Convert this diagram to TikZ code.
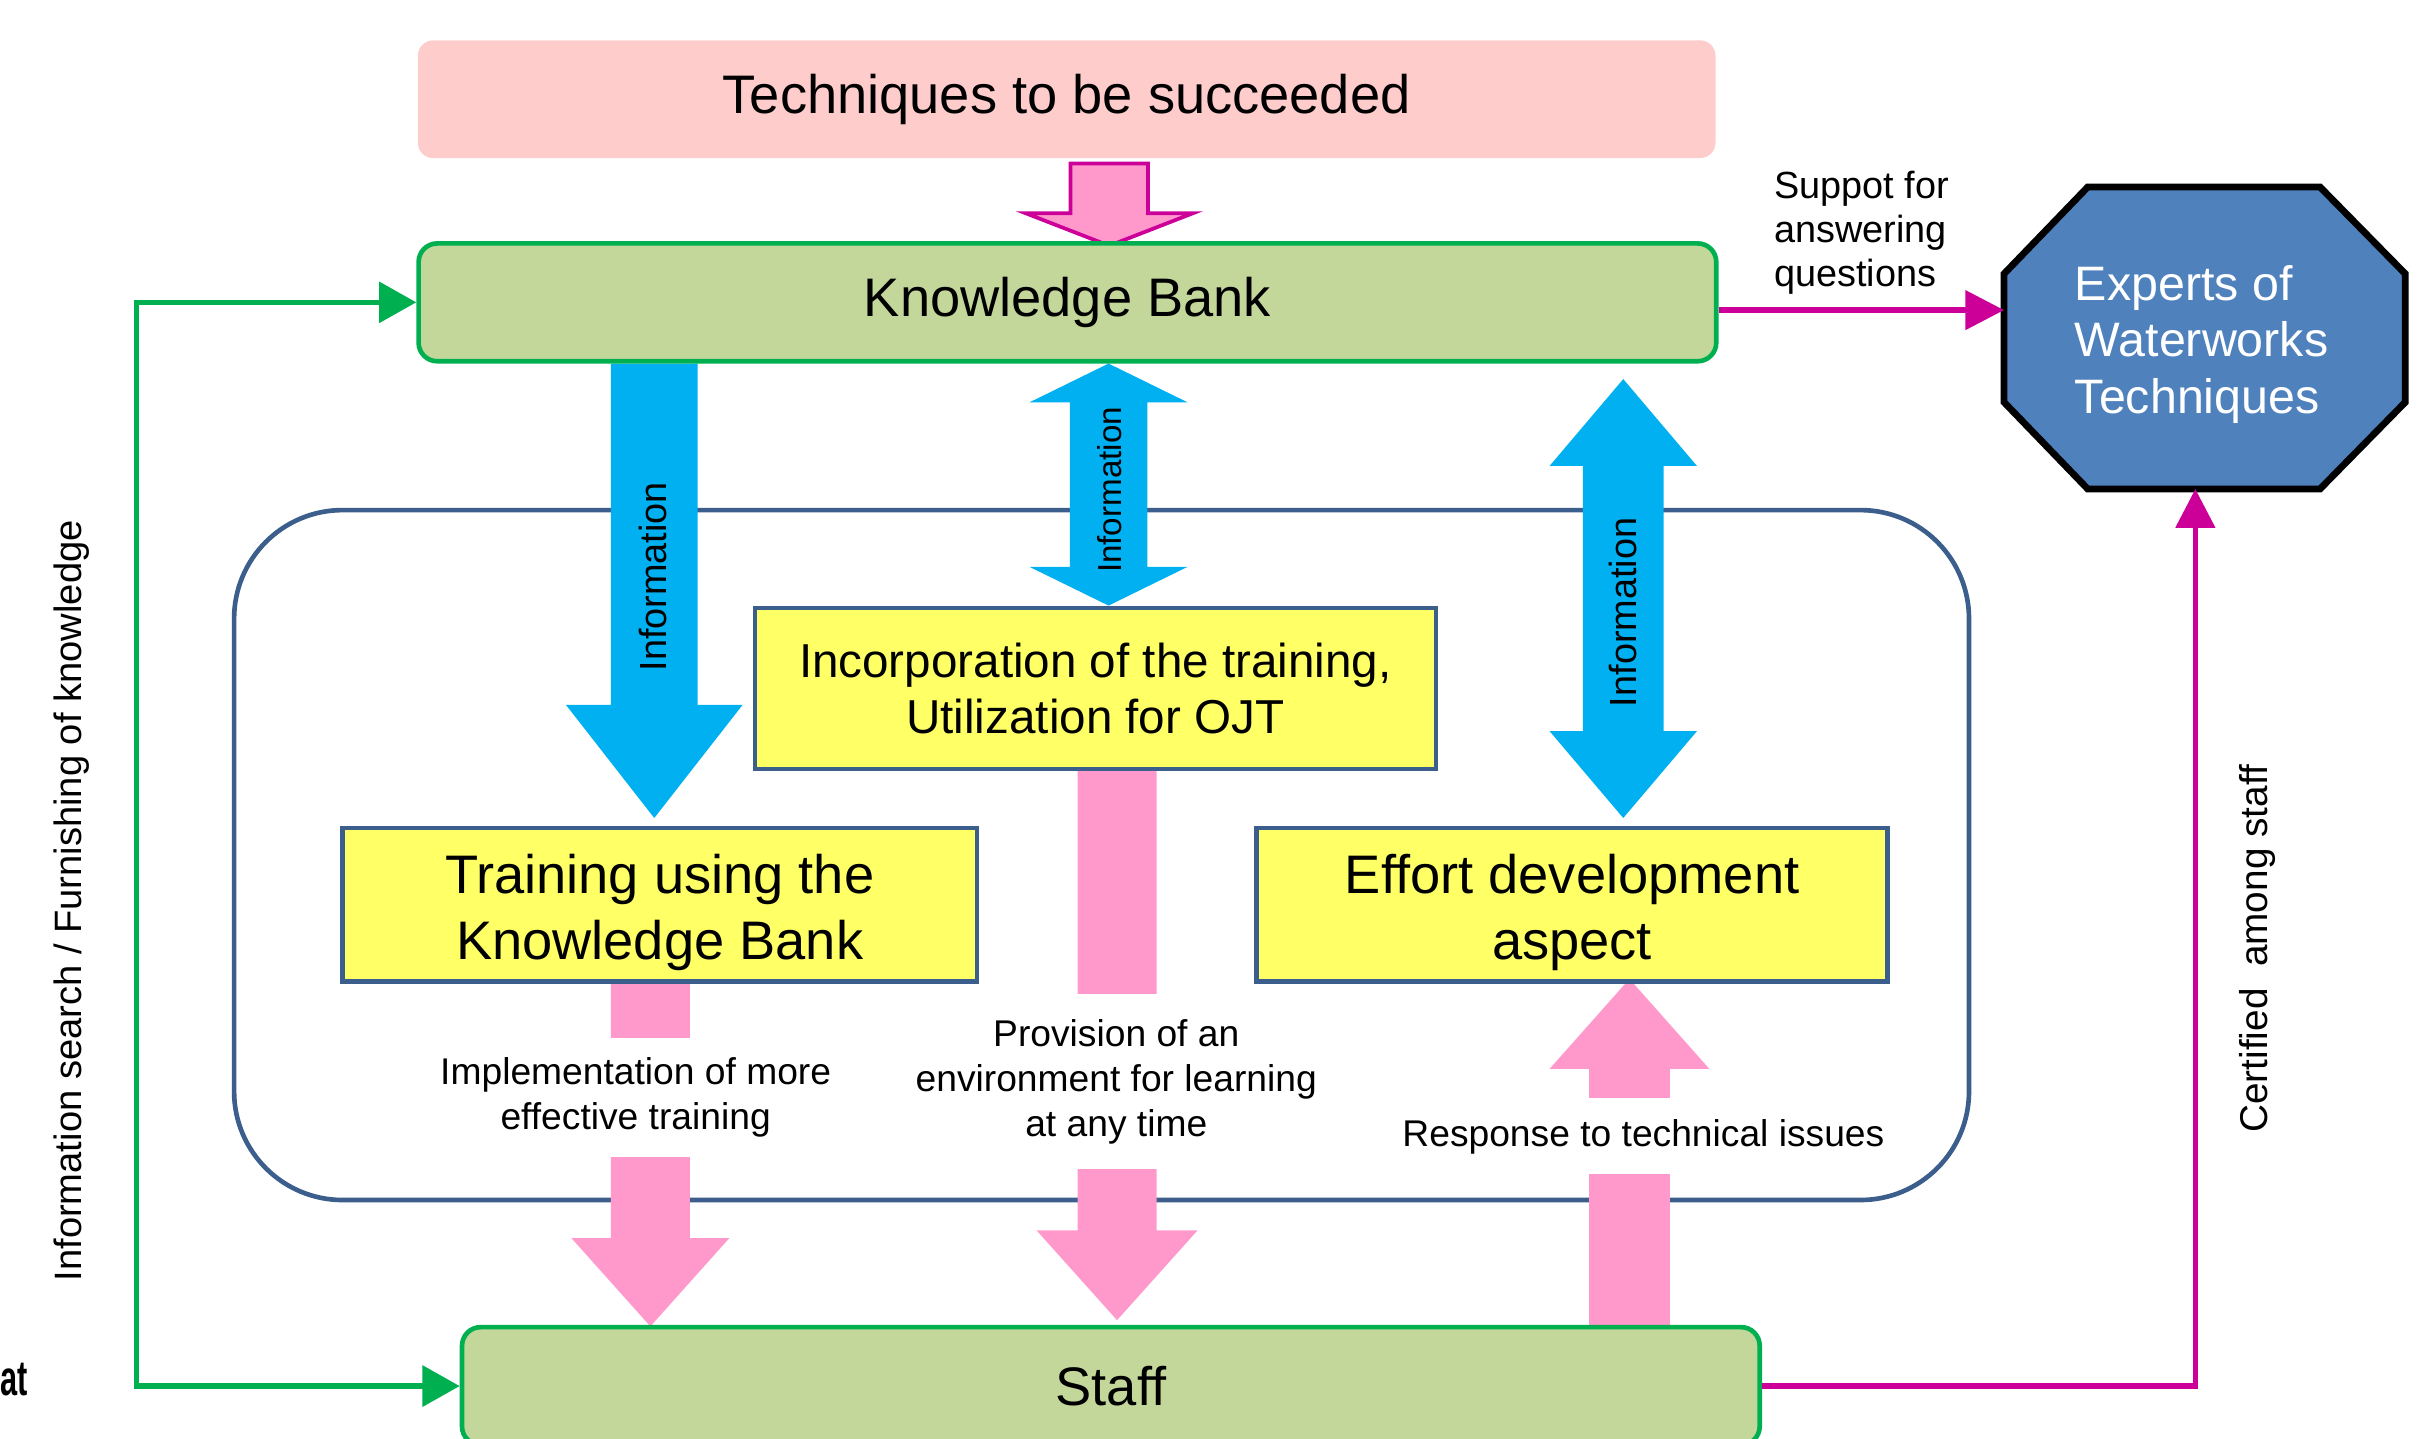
\documentclass[tikz,border=0pt]{standalone}
\usepackage{fontspec}
\setmainfont{Liberation Sans}
\usetikzlibrary{arrows.meta,calc,backgrounds}

\definecolor{techpink}{HTML}{FFCCCC}
\definecolor{kbgreen}{HTML}{C4D79B}
\definecolor{edgegreen}{HTML}{00B050}
\definecolor{frameblue}{HTML}{3B5E8C}
\definecolor{infoblue}{HTML}{00B0F0}
\definecolor{flowpink}{HTML}{FF99CC}
\definecolor{linkmag}{HTML}{CC0099}
\definecolor{noteyellow}{HTML}{FFFF66}
\definecolor{expertblue}{HTML}{4F81BD}

% vertical block arrow: style, start, tip, shaft half-width, head half-width, head length
\newcommand\vblock[6]{%
  \path[#1] ($(#2)+(-#4,0)$) -- ($(#3)+(-#4,-#6)$) -- ($(#3)+(-#5,-#6)$) -- (#3)
    -- ($(#3)+(#5,-#6)$) -- ($(#3)+(#4,-#6)$) -- ($(#2)+(#4,0)$) -- cycle;}
% vertical double block arrow: style, upper tip, lower tip, shaft half-width, head half-width, head length
\newcommand\dblock[6]{%
  \path[#1] (#2) -- ($(#2)+(#5,#6)$) -- ($(#2)+(#4,#6)$) -- ($(#3)+(#4,-#6)$)
    -- ($(#3)+(#5,-#6)$) -- (#3) -- ($(#3)+(-#5,-#6)$) -- ($(#3)+(-#4,-#6)$)
    -- ($(#2)+(-#4,#6)$) -- ($(#2)+(-#5,#6)$) -- cycle;}

\begin{document}
\begin{tikzpicture}[x=0.5pt,y=-0.5pt,
  bar/.style={rounded corners=6pt, minimum width=418.5pt, minimum height=38pt,
    font=\fontsize{17.5}{21}\selectfont},
  bank/.style={bar, fill=kbgreen, draw=edgegreen, line width=1.5pt},
  task/.style={fill=noteyellow, draw=frameblue, line width=1.4pt},
  tasktext/.style={align=center, font=\fontsize{17.5}{21}\selectfont},
  note/.style={fill=white, inner xsep=2pt, inner ysep=0pt, align=center,
    font=\fontsize{12}{14.5}\selectfont},
  info/.style={rotate=90, font=\fontsize{12.2}{14}\selectfont},
  greenlink/.style={draw=edgegreen, line width=1.75pt,
    {Triangle[length=12pt,width=13pt]}-{Triangle[length=12pt,width=13pt]}},
  maglink/.style={draw=linkmag, line width=1.75pt, -{Triangle[length=12.5pt,width=12.5pt]}},
  bluearrow/.style={fill=infoblue},
  pinkarrow/.style={fill=flowpink},
]
\useasboundingbox (0,0) rectangle (1568,928);
\clip (0,0) rectangle (1568,928);

% column positions of the block arrows
\coordinate (xB) at (422,0);
\coordinate (xM) at (715,0);
\coordinate (xR) at (1047,0);
\coordinate (xA) at (419.5,0);
\coordinate (xP) at (720.5,0);
\coordinate (xU) at (1051,0);
\coordinate (xT) at (715.5,0);

% main boxes
\node[bar, fill=techpink, rounded corners=5pt] (tech) at (688,64) {Techniques to be succeeded};
\node[bank] (kb) at (688.5,195) {Knowledge Bank};
\node[bank] (staff) at (716.5,894) {Staff};

\node[task, minimum width=204.5pt, minimum height=49.5pt] (train) at (425.5,583.5) {};
\node[tasktext] (traintext) at ($(train.center)+(0,5)$) {Training using the\\Knowledge Bank};
\node[task, minimum width=219.5pt, minimum height=52pt, align=center,
  font=\fontsize{15.35}{18}\selectfont] (incorp) at (706.5,444) {Incorporation of the training,\\Utilization for OJT};
\node[task, minimum width=203.5pt, minimum height=49.5pt] (effort) at (1014,583.5) {};
\node[tasktext] (efforttext) at ($(effort.center)+(0,5)$) {Effort development\\aspect};

% experts octagon
\node[minimum width=129pt, minimum height=97pt, inner sep=0pt] (exp) at (1422,218) {};
\draw[fill=expertblue, draw=black, line width=2.2pt]
  ($(exp.north west)+(54,0)$) -- ($(exp.north east)+(-55,0)$) -- ($(exp.north east)+(0,56)$)
  -- ($(exp.south east)+(0,-56)$) -- ($(exp.south east)+(-55,0)$) -- ($(exp.south west)+(54,0)$)
  -- ($(exp.south west)+(0,-56)$) -- ($(exp.north west)+(0,56)$) -- cycle;
\node[text=white, align=left, font=\fontsize{15.6}{18.25}\selectfont] (exptext)
  at ($(exp.center)+(-2,4)$) {Experts of\\Waterworks\\Techniques};

\begin{pgfonlayer}{background}
  % learning environment frame
  \draw[frameblue, line width=1.5pt, rounded corners=35pt] (151,329) rectangle (1270,774);

  % information flows
  \vblock{bluearrow}{kb.south -| xB}{$(train.north -| xB)+(0,-5)$}{28}{57}{73}
  \dblock{bluearrow}{kb.south -| xM}{incorp.north -| xM}{25}{51}{25}
  \dblock{bluearrow}{$(kb.south -| xR)+(0,10)$}{$(effort.north -| xR)+(0,-5)$}{26}{47.5}{56}

  % succession into the bank
  \vblock{pinkarrow, draw=linkmag, line width=1.2pt}{$(tech.south -| xT)+(0,3)$}{$(kb.north -| xT)+(0,3)$}{25}{54}{21}

  % effects on the staff
  \vblock{pinkarrow}{train.south -| xA}{$(staff.north -| xA)+(0,1)$}{25.5}{51}{57}
  \vblock{pinkarrow}{incorp.south -| xP}{$(staff.north -| xP)+(0,-3)$}{25.5}{52}{58}
  \vblock{pinkarrow}{staff.north -| xU}{$(effort.south -| xU)+(0,-3)$}{26}{51.5}{-58}
\end{pgfonlayer}

% labels on the flows
\node[info] (infoL) at (421,372) {Information};
\node[info, font=\fontsize{10.7}{12}\selectfont] (infoM) at (716,316) {Information};
\node[info] (infoR) at (1047,395) {Information};

\node[note, minimum height=38.5pt] (impl) at (410,708) {Implementation of more\\effective training};
\node[note, minimum height=56.5pt] (prov) at (720,697.5) {Provision of an\\environment for learning\\at any time};
\node[note, minimum height=24.5pt] (resp) at (1060,733) {Response to technical issues};

% links to the experts
\coordinate (expL) at ($(exp.west)+(0,-18)$);
\coordinate (expB) at ($(exp.south)+(-6,0)$);
\draw[maglink] (kb.east |- expL) -- (expL);
\node[anchor=west, align=left, inner sep=0pt, font=\fontsize{12.2}{14.25}\selectfont] (support)
  at (1144,150) {Suppot for\\answering\\questions};
\draw[maglink] (staff.east) -| (expB);
\node[rotate=90, font=\fontsize{12.5}{14}\selectfont] (cert) at (1456,612) {Certified~ among staff};

% search / furnishing loop
\coordinate (gx) at (88,0);
\draw[greenlink] (kb.west) -- (kb.west -| gx) -- (staff.west -| gx) -- (staff.west);
\node[rotate=90, font=\fontsize{12.3}{14}\selectfont] (search) at (46,581)
  {Information search / Furnishing of knowledge};

\node[anchor=base west, inner sep=0pt, xscale=0.62, font=\bfseries\fontsize{16}{18}\selectfont]
  (cut) at (0,900) {at};
\end{tikzpicture}
\end{document}
